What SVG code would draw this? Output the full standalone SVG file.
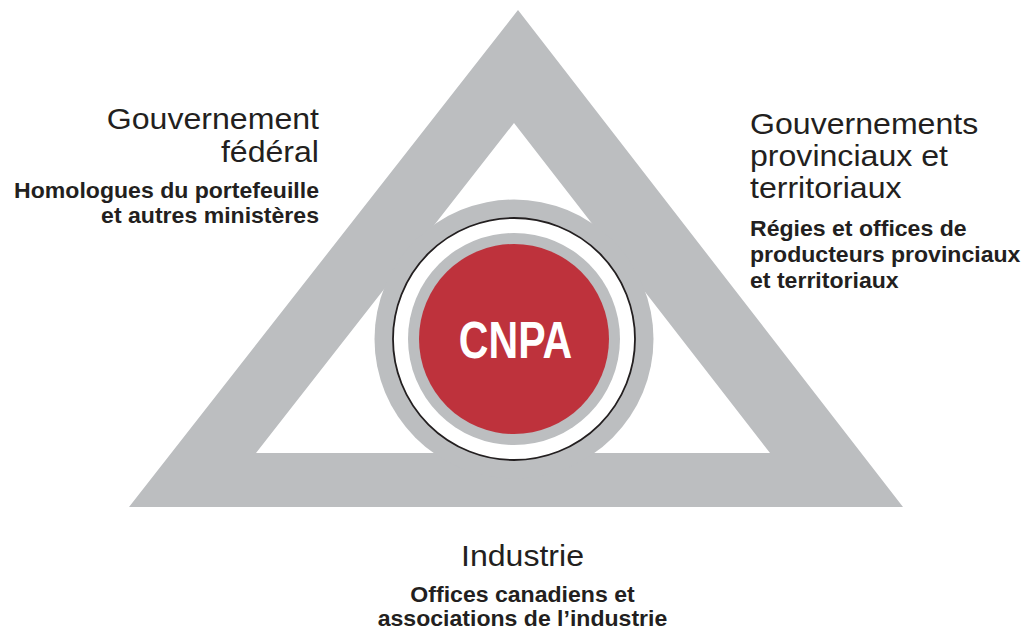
<svg xmlns="http://www.w3.org/2000/svg" width="1027" height="629" viewBox="0 0 1027 629">
  <style>
    .band { fill: #BCBEC0; }
    .head { font-family: "Liberation Sans", Arial, sans-serif; font-size: 30px; fill: #231F20; }
    .sub  { font-family: "Liberation Sans", Arial, sans-serif; font-size: 22px; font-weight: bold; fill: #231F20; }
    .core { font-family: "Liberation Sans", Arial, sans-serif; font-size: 52px; font-weight: bold; fill: #FFFFFF; }
  </style>
  <rect width="1027" height="629" fill="#FFFFFF"/>

  <!-- triangular frame with a triangular opening -->
  <g id="triangle">
    <path class="band" fill-rule="evenodd" d="M518,10 L903,507 L129,507 Z M514,123 L770,453 L256,453 Z"/>
  </g>

  <!-- central council emblem -->
  <g id="cnpa">
    <circle class="band" cx="514" cy="339" r="139.5"/>
    <circle cx="514" cy="339" r="121" fill="#FFFFFF" stroke="#231F20" stroke-width="1.8"/>
    <circle class="band" cx="514" cy="339" r="106"/>
    <circle cx="514" cy="339" r="95" fill="#BE323C"/>
    <text class="core" transform="translate(515.5,358) scale(0.79,1)" x="0" y="0" text-anchor="middle">CNPA</text>
  </g>

  <!-- federal partners, upper left -->
  <g id="federal" transform="translate(319,0) scale(1.07,1)">
    <text class="head" x="0" y="129" text-anchor="end">Gouvernement</text>
    <text class="head" x="0" y="162.5" text-anchor="end">fédéral</text>
    <text class="sub" x="0" y="198" text-anchor="end" transform="scale(0.98,1)">Homologues du portefeuille</text>
    <text class="sub" x="0" y="223" text-anchor="end" transform="scale(0.98,1)">et autres ministères</text>
  </g>

  <!-- provincial and territorial partners, upper right -->
  <g id="provincial" transform="translate(750,0) scale(1.07,1)">
    <text class="head" x="0" y="134">Gouvernements</text>
    <text class="head" x="0" y="166">provinciaux et</text>
    <text class="head" x="0" y="198">territoriaux</text>
    <text class="sub" x="0" y="236" transform="scale(0.98,1)">Régies et offices de</text>
    <text class="sub" x="0" y="262" transform="scale(0.98,1)">producteurs provinciaux</text>
    <text class="sub" x="0" y="288" transform="scale(0.98,1)">et territoriaux</text>
  </g>

  <!-- industry partners, bottom -->
  <g id="industry" transform="translate(522.5,0) scale(1.07,1)">
    <text class="head" x="0" y="566" text-anchor="middle">Industrie</text>
    <text class="sub" x="0" y="602" text-anchor="middle" transform="scale(0.98,1)">Offices canadiens et</text>
    <text class="sub" x="0" y="626" text-anchor="middle" transform="scale(0.98,1)">associations de l’industrie</text>
  </g>
</svg>
